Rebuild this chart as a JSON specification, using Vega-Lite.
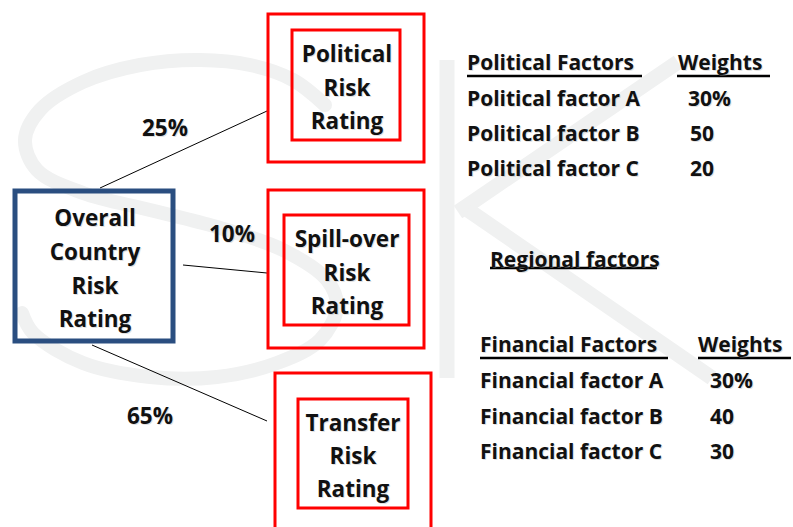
{
  "$schema": "https://vega.github.io/schema/vega-lite/v6.json",
  "width": 793,
  "height": 527,
  "autosize": {"type": "none"},
  "padding": 0,
  "background": "white",
  "config": {"view": {"stroke": null}},
  "datasets": {
    "s_path": [
      {"i": 1, "px": 325, "py": 105}, {"i": 2, "px": 293, "py": 80}, {"i": 3, "px": 250, "py": 65},
      {"i": 4, "px": 200, "py": 60}, {"i": 5, "px": 140, "py": 65}, {"i": 6, "px": 83, "py": 82},
      {"i": 7, "px": 40, "py": 110}, {"i": 8, "px": 25, "py": 140}, {"i": 9, "px": 37, "py": 170},
      {"i": 10, "px": 83, "py": 193}, {"i": 11, "px": 150, "py": 210}, {"i": 12, "px": 217, "py": 227},
      {"i": 13, "px": 283, "py": 250}, {"i": 14, "px": 327, "py": 280}, {"i": 15, "px": 337, "py": 307},
      {"i": 16, "px": 320, "py": 340}, {"i": 17, "px": 277, "py": 363}, {"i": 18, "px": 217, "py": 377},
      {"i": 19, "px": 150, "py": 377}, {"i": 20, "px": 83, "py": 363}, {"i": 21, "px": 33, "py": 333},
      {"i": 22, "px": 22, "py": 313}
    ],
    "k_strokes": [
      {"part": "stem", "px": 447, "py": 60, "px2": 447, "py2": 378},
      {"part": "upper arm", "px": 458, "py": 212, "px2": 678, "py2": 62},
      {"part": "lower arm", "px": 468, "py": 210, "px2": 712, "py2": 378}
    ],
    "links": [
      {"to": "Political", "weight": "25%", "px": 100, "py": 188, "px2": 267, "py2": 111},
      {"to": "Spill-over", "weight": "10%", "px": 183, "py": 265, "px2": 267, "py2": 273},
      {"to": "Transfer", "weight": "65%", "px": 92, "py": 345, "px2": 267, "py2": 421}
    ],
    "red_boxes": [
      {"box": "Political outer", "px": 268, "px2": 424, "py": 14, "py2": 162},
      {"box": "Political inner", "px": 292, "px2": 400, "py": 30, "py2": 140},
      {"box": "Spill-over outer", "px": 268, "px2": 424, "py": 190, "py2": 348},
      {"box": "Spill-over inner", "px": 284, "px2": 409, "py": 215, "py2": 325},
      {"box": "Transfer outer", "px": 275, "px2": 431, "py": 373, "py2": 540},
      {"box": "Transfer inner", "px": 298, "px2": 408, "py": 399, "py2": 508}
    ],
    "blue_boxes": [
      {"box": "Overall", "px": 15, "px2": 173, "py": 191, "py2": 341}
    ],
    "centered_text": [
      {"t": "Political", "px": 347, "py": 53},
      {"t": "Risk", "px": 347, "py": 87},
      {"t": "Rating", "px": 347, "py": 120},
      {"t": "Spill-over", "px": 347, "py": 238},
      {"t": "Risk", "px": 347, "py": 272},
      {"t": "Rating", "px": 347, "py": 305},
      {"t": "Transfer", "px": 353, "py": 422},
      {"t": "Risk", "px": 353, "py": 455},
      {"t": "Rating", "px": 353, "py": 488},
      {"t": "Overall", "px": 95, "py": 217},
      {"t": "Country", "px": 95, "py": 251},
      {"t": "Risk", "px": 95, "py": 285},
      {"t": "Rating", "px": 95, "py": 318},
      {"t": "25%", "px": 165, "py": 127},
      {"t": "10%", "px": 232, "py": 233},
      {"t": "65%", "px": 150, "py": 415}
    ],
    "table_text": [
      {"t": "Political Factors", "px": 467, "py": 62},
      {"t": "Weights", "px": 678, "py": 62},
      {"t": "Political factor A", "px": 467, "py": 98},
      {"t": "30%", "px": 688, "py": 98},
      {"t": "Political factor B", "px": 467, "py": 133},
      {"t": "50", "px": 690, "py": 133},
      {"t": "Political factor C", "px": 467, "py": 168},
      {"t": "20", "px": 690, "py": 168},
      {"t": "Regional factors", "px": 490, "py": 259},
      {"t": "Financial Factors", "px": 480, "py": 344},
      {"t": "Weights", "px": 698, "py": 344},
      {"t": "Financial factor A", "px": 480, "py": 380},
      {"t": "30%", "px": 710, "py": 380},
      {"t": "Financial factor B", "px": 480, "py": 416},
      {"t": "40", "px": 710, "py": 416},
      {"t": "Financial factor C", "px": 480, "py": 451},
      {"t": "30", "px": 710, "py": 451}
    ],
    "underlines": [
      {"for": "Political Factors", "px": 467, "px2": 642, "py": 76},
      {"for": "Weights", "px": 677, "px2": 770, "py": 76},
      {"for": "Regional factors", "px": 490, "px2": 657, "py": 268},
      {"for": "Financial Factors", "px": 480, "px2": 668, "py": 358},
      {"for": "Weights", "px": 698, "px2": 791, "py": 358}
    ]
  },
  "encoding": {
    "x": {"field": "px", "type": "quantitative", "scale": {"domain": [0, 793], "nice": false, "zero": false}, "axis": null},
    "y": {"field": "py", "type": "quantitative", "scale": {"domain": [0, 527], "nice": false, "zero": false, "reverse": true}, "axis": null}
  },
  "layer": [
    {
      "data": {"name": "s_path"},
      "mark": {"type": "line", "stroke": "#f0f1f1", "strokeWidth": 14, "interpolate": "catmull-rom", "strokeCap": "round"},
      "encoding": {"order": {"field": "i", "type": "quantitative"}}
    },
    {
      "data": {"name": "k_strokes"},
      "mark": {"type": "rule", "stroke": "#f0f1f1", "strokeWidth": 15},
      "encoding": {
        "x2": {"field": "px2"},
        "y2": {"field": "py2"}
      }
    },
    {
      "data": {"name": "links"},
      "mark": {"type": "rule", "stroke": "black", "strokeWidth": 1},
      "encoding": {
        "x2": {"field": "px2"},
        "y2": {"field": "py2"}
      }
    },
    {
      "data": {"name": "red_boxes"},
      "mark": {"type": "rect", "fill": "transparent", "stroke": "#ff0000", "strokeWidth": 3, "clip": true},
      "encoding": {
        "x2": {"field": "px2"},
        "y2": {"field": "py2"}
      }
    },
    {
      "data": {"name": "blue_boxes"},
      "mark": {"type": "rect", "fill": "transparent", "stroke": "#2a4e80", "strokeWidth": 5},
      "encoding": {
        "x2": {"field": "px2"},
        "y2": {"field": "py2"}
      }
    },
    {
      "data": {"name": "underlines"},
      "mark": {"type": "rule", "stroke": "black", "strokeWidth": 2.5},
      "encoding": {
        "x2": {"field": "px2"}
      }
    },
    {
      "data": {"name": "centered_text"},
      "mark": {"type": "text", "font": "Open Sans", "fontWeight": "bold", "fontSize": 22.5, "align": "center", "baseline": "middle", "color": "#aaaaaa", "opacity": 0.35, "dx": 1, "dy": 3},
      "encoding": {"text": {"field": "t"}}
    },
    {
      "data": {"name": "table_text"},
      "mark": {"type": "text", "font": "Open Sans", "fontWeight": "bold", "fontSize": 21, "align": "left", "baseline": "middle", "color": "#aaaaaa", "opacity": 0.35, "dx": 1, "dy": 3},
      "encoding": {"text": {"field": "t"}}
    },
    {
      "data": {"name": "centered_text"},
      "mark": {"type": "text", "font": "Open Sans", "fontWeight": "bold", "fontSize": 22.5, "align": "center", "baseline": "middle", "color": "#111111", "dy": 2},
      "encoding": {"text": {"field": "t"}}
    },
    {
      "data": {"name": "table_text"},
      "mark": {"type": "text", "font": "Open Sans", "fontWeight": "bold", "fontSize": 21, "align": "left", "baseline": "middle", "color": "#111111", "dy": 2},
      "encoding": {"text": {"field": "t"}}
    }
  ]
}
